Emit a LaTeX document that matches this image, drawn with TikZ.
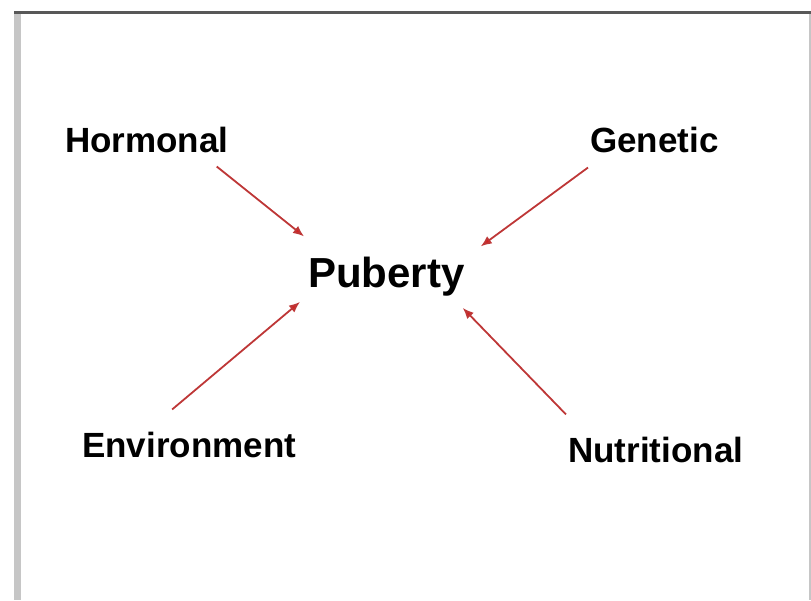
\documentclass[tikz,border=0pt]{standalone}
\usepackage{fontspec}
\setmainfont{Liberation Sans}
\usetikzlibrary{arrows.meta, positioning, calc}
\definecolor{setared}{RGB}{190,55,55}
\definecolor{pontared}{RGB}{215,30,30}
\definecolor{molduraesc}{RGB}{88,88,88}
\definecolor{moldura}{RGB}{198,198,198}
\tikzset{
    fator/.style  = {font=\fontsize{35}{40}\selectfont\bfseries, inner sep=0pt, anchor=base west},
    centro/.style = {font=\fontsize{42}{48}\selectfont\bfseries, inner sep=0pt, anchor=base west},
    lig/.style    = {-{Latex[length=11pt,width=9pt,fill=pontared]}, line width=1.8pt, setared},
}

\begin{document}
\begin{tikzpicture}[x=1pt, y=-1pt]
        \useasboundingbox (0,0) rectangle (811,600);
        % moldura
        \fill[moldura] (14,11) rectangle (21,600);
        \draw[moldura, line width=1.2pt] (810,11) -- (810,600);
        \fill[molduraesc] (14,11) rectangle (811,14);
        % centro e fatores
        \node[centro] (pub) at (308,287) {Puberty};
        \node[fator] (hor) at (65,152) {Hormonal};
        \node[fator] (gen) at (590,152) {Genetic};
        \node[fator] (env) at (82,457) {Environment};
        \node[fator] (nut) at (568,462) {Nutritional};
        % setas
        \draw[lig] ($(hor.south east)+(-12,14)$) -- ($(pub.north west)+(-4,-20)$);
        \draw[lig] ($(gen.south west)+(-2,15)$) -- ($(pub.north east)+(16,-10)$);
        \draw[lig] ($(env.north)+(-17,-22)$) -- ($(pub.south west)+(-8,6)$);
        \draw[lig] ($(nut.north west)+(-2,-22)$) -- ($(pub.south east)+(-2,12)$);
    \end{tikzpicture}
\end{document}
